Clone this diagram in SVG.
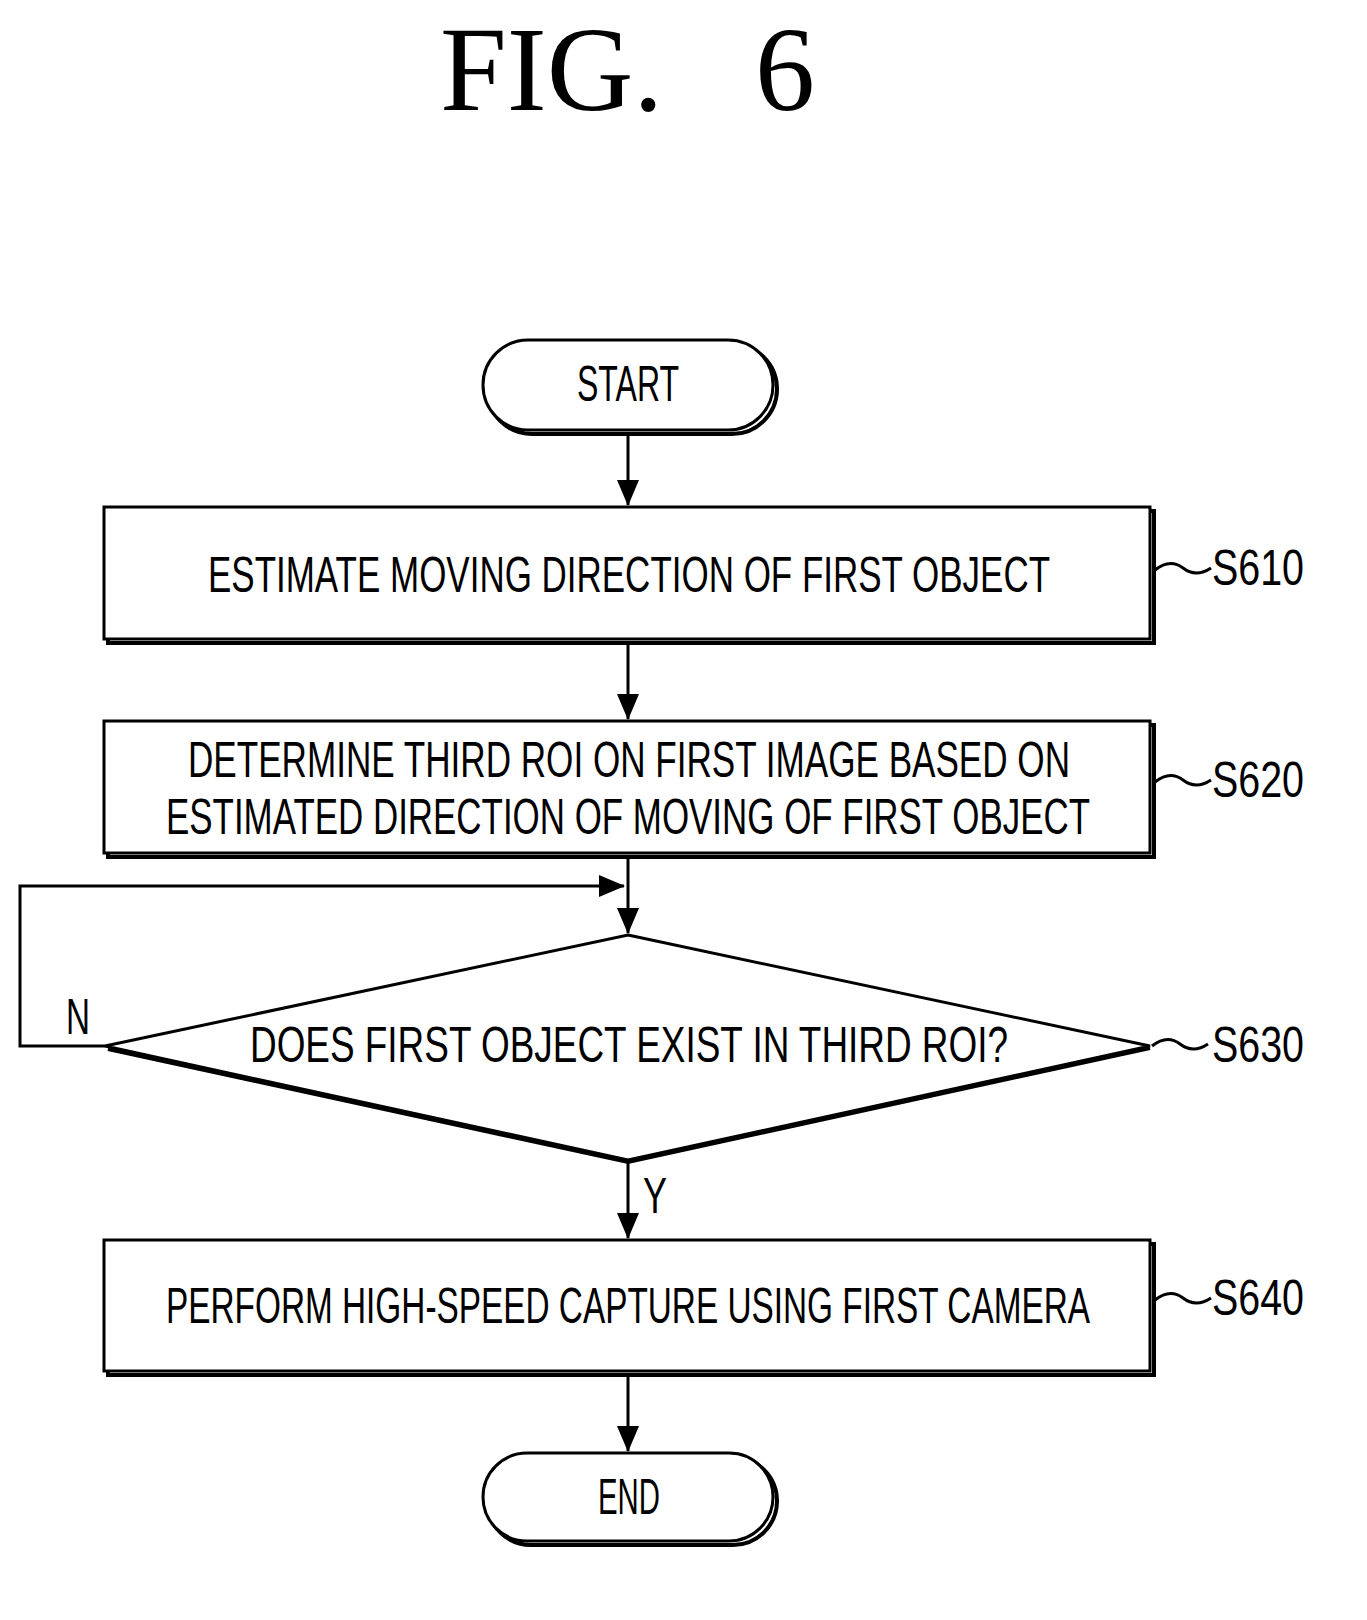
<svg xmlns="http://www.w3.org/2000/svg" width="1367" height="1620" viewBox="0 0 1367 1620">
<defs>
<style>
.t{font-family:"Liberation Sans",Arial,sans-serif;font-size:50px;fill:#000}
.s{fill:#fff;stroke:#000;stroke-width:3}
.sh{fill:none;stroke:#000;stroke-width:4}
.c{fill:none;stroke:#000;stroke-width:3}
</style>
<marker id="a" markerWidth="26" markerHeight="24" refX="25" refY="12" orient="auto" markerUnits="userSpaceOnUse" viewBox="0 0 26 24"><path d="M0,1 L26,12 L0,23 z" fill="#000"/></marker>
</defs>
<rect width="1367" height="1620" fill="#fff"/>
<text x="440" y="110" font-family="Liberation Serif,serif" font-size="120">FIG.</text>
<text x="755" y="110" font-family="Liberation Serif,serif" font-size="120">6</text>
<g id="connectors">
<line class="c" x1="628" y1="434" x2="628" y2="505" marker-end="url(#a)"/>
<line class="c" x1="628" y1="643" x2="628" y2="719" marker-end="url(#a)"/>
<line class="c" x1="628" y1="857" x2="628" y2="933" marker-end="url(#a)"/>
<polyline class="c" points="105,1046 20,1046 20,886 624,886" marker-end="url(#a)"/>
<line class="c" x1="628" y1="1160" x2="628" y2="1238" marker-end="url(#a)"/>
<line class="c" x1="628" y1="1375" x2="628" y2="1451" marker-end="url(#a)"/>
<text class="t" x="66" y="1034" textLength="24" lengthAdjust="spacingAndGlyphs">N</text>
<text class="t" x="643" y="1213" textLength="24" lengthAdjust="spacingAndGlyphs">Y</text>
</g>
<g id="start">
<rect class="sh" x="487" y="344" width="290" height="90" rx="45"/>
<rect class="s" x="483" y="340" width="290" height="90" rx="45"/>
<text class="t" x="628" y="401" text-anchor="middle" textLength="102" lengthAdjust="spacingAndGlyphs">START</text>
</g>
<g id="s610">
<rect class="sh" x="108" y="511" width="1046" height="132"/>
<rect class="s" x="104" y="507" width="1046" height="132"/>
<text class="t" x="629" y="592" text-anchor="middle" textLength="842" lengthAdjust="spacingAndGlyphs">ESTIMATE MOVING DIRECTION OF FIRST OBJECT</text>
<path class="c" d="M1155,570 q15,-12 28,-2 t28,0" stroke-width="2"/>
<text class="t" x="1212" y="585" textLength="92" lengthAdjust="spacingAndGlyphs">S610</text>
</g>
<g id="s620">
<rect class="sh" x="108" y="725" width="1046" height="132"/>
<rect class="s" x="104" y="721" width="1046" height="132"/>
<text class="t" x="629" y="777" text-anchor="middle" textLength="882" lengthAdjust="spacingAndGlyphs">DETERMINE THIRD ROI ON FIRST IMAGE BASED ON</text>
<text class="t" x="628" y="834" text-anchor="middle" textLength="924" lengthAdjust="spacingAndGlyphs">ESTIMATED DIRECTION OF MOVING OF FIRST OBJECT</text>
<path class="c" d="M1155,782 q15,-12 28,-2 t28,0" stroke-width="2"/>
<text class="t" x="1212" y="797" textLength="92" lengthAdjust="spacingAndGlyphs">S620</text>
</g>
<g id="s630">
<polygon class="s" points="628,935 1150,1046 628,1160 105,1046"/>
<polyline class="sh" points="108,1049 628,1162 1150,1048" stroke-width="5"/>
<text class="t" x="629" y="1062" text-anchor="middle" textLength="758" lengthAdjust="spacingAndGlyphs">DOES FIRST OBJECT EXIST IN THIRD ROI?</text>
<path class="c" d="M1152,1046 q15,-12 28,-2 t28,0" stroke-width="2"/>
<text class="t" x="1212" y="1062" textLength="92" lengthAdjust="spacingAndGlyphs">S630</text>
</g>
<g id="s640">
<rect class="sh" x="108" y="1244" width="1046" height="131"/>
<rect class="s" x="104" y="1240" width="1046" height="131"/>
<text class="t" x="628" y="1323" text-anchor="middle" textLength="924" lengthAdjust="spacingAndGlyphs">PERFORM HIGH-SPEED CAPTURE USING FIRST CAMERA</text>
<path class="c" d="M1155,1300 q15,-12 28,-2 t28,0" stroke-width="2"/>
<text class="t" x="1212" y="1315" textLength="92" lengthAdjust="spacingAndGlyphs">S640</text>
</g>
<g id="end">
<rect class="sh" x="487" y="1457" width="290" height="88" rx="44"/>
<rect class="s" x="483" y="1453" width="290" height="88" rx="44"/>
<text class="t" x="629" y="1514" text-anchor="middle" textLength="62" lengthAdjust="spacingAndGlyphs">END</text>
</g>
</svg>
